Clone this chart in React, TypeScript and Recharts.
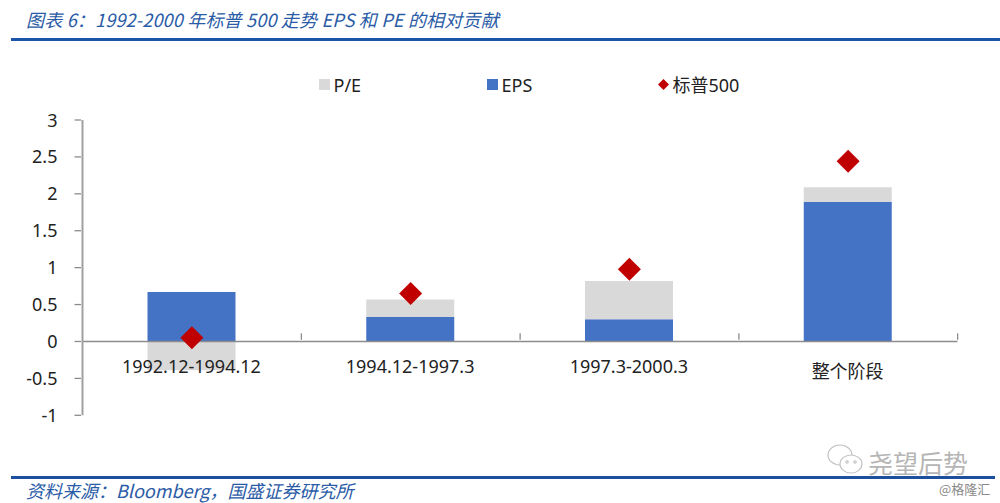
import React from "react";
import { ComposedChart, Bar, Line, XAxis, YAxis, ReferenceLine, Legend } from "recharts";

const categories = ["1992.12-1994.12", "1994.12-1997.3", "1997.3-2000.3", "整个阶段"];
const epsValues = [0.67, 0.33, 0.3, 1.89];
const peValues = [-0.39, 0.24, 0.52, 0.2];
const spxValues = [0.05, 0.65, 0.98, 2.44];
const yTicks = [-1, -0.5, 0, 0.5, 1, 1.5, 2, 2.5, 3];
const legendOrder = ["P/E", "EPS", "标普500"];
const titleText = "图表 6\uFF1A1992-2000 年标普 500 走势 EPS 和 PE 的相对贡献";
const sourceText = "资料来源\uFF1ABloomberg\uFF0C国盛证券研究所";

const rows = categories.map((name, i) => ({
  name,
  EPS: epsValues[i],
  "P/E": peValues[i],
  "标普500": spxValues[i],
}));

const AXIS = "#8c8c8c";
const FONT = "'Noto Sans', 'Noto Sans CJK SC', sans-serif";
const TEXT = "#222222";
const BLUE = "#4472c4";
const GRAY = "#d9d9d9";
const RED = "#c00000";

const XTick = (props: any) => {
  const { x, y, payload, index } = props;
  const zeroY = y - 83.5;
  const isCjk = index === categories.length - 1;
  return (
    <g>
      <line x1={x + 109.5} x2={x + 109.5} y1={zeroY} y2={zeroY - 6.5} stroke={AXIS} strokeWidth={1.3} />
      <text x={x - 0.5} y={zeroY + (isCjk ? 38 : 33)} textAnchor="middle" fontSize={18} fill={TEXT} fontFamily={FONT}>
        {payload.value}
      </text>
    </g>
  );
};

const YTick = (props: any) => {
  const { x, y, payload } = props;
  return (
    <g>
      <line x1={x} x2={x + 6.5} y1={y} y2={y} stroke={AXIS} strokeWidth={1.3} />
      <text x={x - 17} y={y + 6.5} textAnchor="end" fontSize={18} fill={TEXT} fontFamily={FONT}>
        {payload.value}
      </text>
    </g>
  );
};

const Diamond = (props: any) => {
  const { cx, cy, index } = props;
  const r = 11.5;
  return <polygon key={index} points={`${cx},${cy - r} ${cx + r},${cy} ${cx},${cy + r} ${cx - r},${cy}`} fill={RED} />;
};

const legendX: Record<string, number> = { "P/E": 319, EPS: 487, "标普500": 658 };

const LegendContent = () => (
  <svg width={1000} height={40} style={{ display: "block", overflow: "visible" }}>
    {legendOrder.map((name) => {
      const x = legendX[name];
      return (
        <g key={name}>
          {name === "标普500" ? (
            <polygon points={`${x + 5.5},0 ${x + 11},5.5 ${x + 5.5},11 ${x},5.5`} transform="translate(0,14)" fill={RED} />
          ) : (
            <rect x={x} y={14} width={11} height={11} fill={name === "EPS" ? BLUE : GRAY} />
          )}
          <text x={x + 14.5} y={26.5} fontSize={18} fill={TEXT} fontFamily={FONT}>
            {name}
          </text>
        </g>
      );
    })}
  </svg>
);

const noteStyle: React.CSSProperties = {
  position: "absolute",
  left: 26,
  fontSize: 18,
  lineHeight: "24px",
  fontStyle: "italic",
  color: "#2a5ba6",
  fontFamily: "'Noto Sans CJK SC', 'Liberation Sans', sans-serif",
  whiteSpace: "pre",
};

export default function App() {
  return (
    <div style={{ position: "absolute", left: 0, top: 0, width: 1000, height: 503, background: "#fff", overflow: "hidden" }}>
      <div style={{ ...noteStyle, top: 7, letterSpacing: 0.2 }}>{titleText}</div>
      <div style={{ position: "absolute", left: 11, right: 0, top: 38, height: 2.5, background: "#1c56a8" }} />
      <ComposedChart
        width={1000}
        height={503}
        data={rows}
        stackOffset="sign"
        margin={{ top: 80, right: 42.5, bottom: 86.7, left: 32.5 }}
        style={{ position: "absolute", left: 0, top: 0 }}
      >
        <XAxis dataKey="name" height={1} axisLine={false} tickLine={false} interval={0} tick={<XTick />} />
        <YAxis
          width={50}
          domain={[-1, 3]}
          ticks={yTicks}
          interval={0}
          axisLine={{ stroke: "#a0a0a0", strokeWidth: 2 }}
          tickLine={false}
          tick={<YTick />}
        />
        <Legend verticalAlign="top" wrapperStyle={{ position: "absolute", left: 0, top: 65, width: 1000 }} content={<LegendContent />} />
        <Bar dataKey="EPS" stackId="a" fill={BLUE} barSize={88} isAnimationActive={false} />
        <Bar dataKey="P/E" stackId="a" fill={GRAY} barSize={88} isAnimationActive={false} />
        <ReferenceLine y={0} stroke={AXIS} strokeWidth={1.5} />
        <Line dataKey="标普500" stroke="none" dot={<Diamond />} activeDot={false} legendType="diamond" isAnimationActive={false} />
      </ComposedChart>
      <div style={{ position: "absolute", left: 11, right: 5, top: 476, height: 2.5, background: "#1c4f9e" }} />
      <div style={{ ...noteStyle, top: 478 }}>{sourceText}</div>
      <svg width={40} height={36} style={{ position: "absolute", left: 826, top: 442 }} fill="none" stroke="#c4c4c4" strokeWidth={1.2}>
        <ellipse cx={14} cy={13} rx={12} ry={10} />
        <ellipse cx={25} cy={22} rx={11} ry={9} fill="#fff" />
        <circle cx={21} cy={20} r={1.2} />
        <circle cx={29} cy={20} r={1.2} />
      </svg>
      <div style={{ position: "absolute", left: 868, top: 444, fontSize: 25, color: "#b5b5b5", fontFamily: "'Noto Sans CJK SC', sans-serif", whiteSpace: "pre" }}>
        尧望后势
      </div>
      <div style={{ position: "absolute", left: 939, top: 479, fontSize: 13, color: "#8a8a8a", fontFamily: "'Noto Sans CJK SC', sans-serif", whiteSpace: "pre" }}>
        @格隆汇
      </div>
    </div>
  );
}
